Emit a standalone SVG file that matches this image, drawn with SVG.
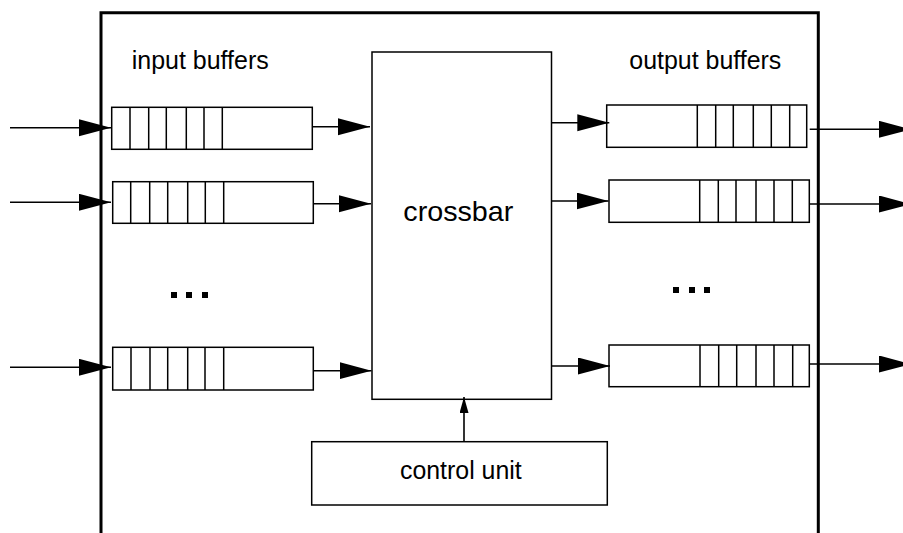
<svg xmlns="http://www.w3.org/2000/svg" width="903" height="533" viewBox="0 0 903 533">
  <style>
    .frame { fill: none; stroke: #000; stroke-width: 3; }
    .box { fill: #fff; stroke: #000; stroke-width: 1.5; }
    .cell { fill: none; stroke: #000; stroke-width: 1.5; }
    .wire { fill: none; stroke: #000; stroke-width: 1.6; }
    .label { font-family: "Liberation Sans", Arial, Helvetica, sans-serif; fill: #000; }
    .dot { fill: #000; }
  </style>
  <defs>
    <marker id="head" markerUnits="userSpaceOnUse" markerWidth="34" markerHeight="20" refX="32" refY="8.5" orient="auto">
      <path d="M0,0 L32,8.5 L0,17 Z" fill="#000"/>
    </marker>
    <marker id="headSmall" markerUnits="userSpaceOnUse" markerWidth="18" markerHeight="12" refX="16" refY="4.5" orient="auto">
      <path d="M0,0 L16,4.5 L0,9 Z" fill="#000"/>
    </marker>
  </defs>

  <rect x="0" y="0" width="903" height="533" fill="#fff"/>

  <!-- switch enclosure (open at the bottom edge) -->
  <path class="frame" d="M101,545 V12.7 H818.3 V545"/>

  <text class="label" x="131.7" y="69" font-size="25" textLength="137" lengthAdjust="spacingAndGlyphs">input buffers</text>
  <text class="label" x="629.3" y="69" font-size="25" textLength="152" lengthAdjust="spacingAndGlyphs">output buffers</text>

  <!-- input queues -->
  <g id="in1">
    <rect class="box" x="111.7" y="107.3" width="200.6" height="42"/>
    <path class="cell" d="M130,107.3V149.3M148.7,107.3V149.3M166.3,107.3V149.3M186.3,107.3V149.3M204,107.3V149.3M222.3,107.3V149.3"/>
  </g>
  <g id="in2">
    <rect class="box" x="112.7" y="181.7" width="200.6" height="41.6"/>
    <path class="cell" d="M130.7,181.7V223.3M149.7,181.7V223.3M167.7,181.7V223.3M187.7,181.7V223.3M205.3,181.7V223.3M223.7,181.7V223.3"/>
  </g>
  <g id="inDots">
    <rect class="dot" x="171" y="292" width="6" height="6"/>
    <rect class="dot" x="186" y="292" width="6" height="6"/>
    <rect class="dot" x="202" y="292" width="6" height="6"/>
  </g>
  <g id="in3">
    <rect class="box" x="112.7" y="347.3" width="200.6" height="42.7"/>
    <path class="cell" d="M131,347.3V390M150,347.3V390M167.7,347.3V390M187.7,347.3V390M205,347.3V390M223.7,347.3V390"/>
  </g>

  <!-- crossbar -->
  <g id="crossbar">
    <rect class="box" x="372" y="52" width="179.5" height="347.3"/>
    <text class="label" x="403.3" y="220.7" font-size="28.5" textLength="110" lengthAdjust="spacingAndGlyphs">crossbar</text>
  </g>

  <!-- control unit -->
  <g id="control">
    <rect class="box" x="311.7" y="441.7" width="295.6" height="63.3"/>
    <text class="label" x="400" y="479.3" font-size="25" textLength="121.7" lengthAdjust="spacingAndGlyphs">control unit</text>
  </g>

  <!-- output queues -->
  <g id="out1">
    <rect class="box" x="606.7" y="105" width="200" height="42.3"/>
    <path class="cell" d="M697.3,105V147.3M715.7,105V147.3M733.3,105V147.3M753.3,105V147.3M771.3,105V147.3M789.7,105V147.3"/>
  </g>
  <g id="out2">
    <rect class="box" x="609" y="180" width="200.3" height="42.3"/>
    <path class="cell" d="M699.7,180V222.3M718.3,180V222.3M736,180V222.3M756,180V222.3M774,180V222.3M792.3,180V222.3"/>
  </g>
  <g id="outDots">
    <rect class="dot" x="673" y="287" width="6" height="6"/>
    <rect class="dot" x="689" y="287" width="6" height="6"/>
    <rect class="dot" x="704" y="287" width="6" height="6"/>
  </g>
  <g id="out3">
    <rect class="box" x="609" y="345" width="200.3" height="41.7"/>
    <path class="cell" d="M700,345V386.7M718.7,345V386.7M736.7,345V386.7M756,345V386.7M774,345V386.7M792.7,345V386.7"/>
  </g>

  <!-- connectors -->
  <g id="connectors" class="wire">
    <line x1="10" y1="127.7" x2="111" y2="127.7" marker-end="url(#head)"/>
    <line x1="10" y1="202.3" x2="111" y2="202.3" marker-end="url(#head)"/>
    <line x1="10" y1="367.3" x2="111" y2="367.3" marker-end="url(#head)"/>

    <line x1="312.3" y1="126.7" x2="370" y2="126.7" marker-end="url(#head)"/>
    <line x1="313.3" y1="203.7" x2="371" y2="203.7" marker-end="url(#head)"/>
    <line x1="313.3" y1="370.7" x2="371.5" y2="370.7" marker-end="url(#head)"/>

    <line x1="551.5" y1="122.7" x2="609.3" y2="122.7" marker-end="url(#head)"/>
    <line x1="551.5" y1="201" x2="608.5" y2="201" marker-end="url(#head)"/>
    <line x1="551.5" y1="366" x2="610" y2="366" marker-end="url(#head)"/>

    <line x1="809.7" y1="129.3" x2="911" y2="129.3" marker-end="url(#head)"/>
    <line x1="809.7" y1="204" x2="911" y2="204" marker-end="url(#head)"/>
    <line x1="809.7" y1="364" x2="911" y2="364" marker-end="url(#head)"/>

    <line x1="464" y1="441.7" x2="464" y2="397" marker-end="url(#headSmall)"/>
  </g>
</svg>
